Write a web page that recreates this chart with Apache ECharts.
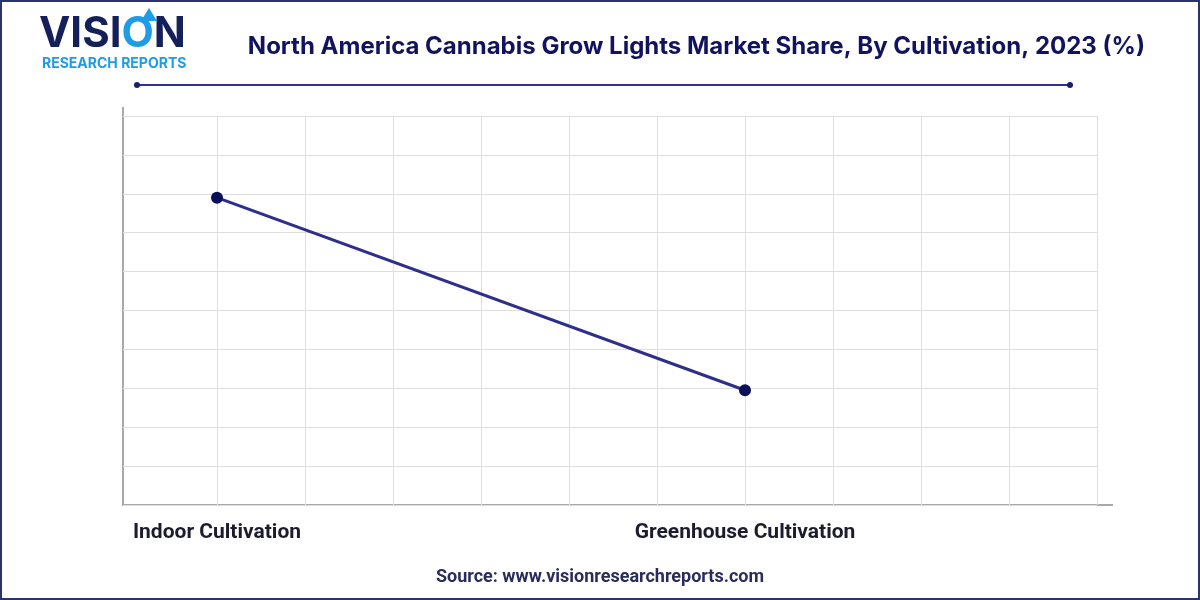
<!DOCTYPE html>
<html><head><meta charset="utf-8">
<script src="https://cdn.jsdelivr.net/npm/echarts@6/dist/echarts.min.js"></script>
<style>
html,body{margin:0;padding:0;background:#fff;}
#c{width:1200px;height:600px;box-sizing:border-box;}
#frame{position:absolute;left:0;top:0;width:1200px;height:600px;box-sizing:border-box;border:2px solid #2c3470;pointer-events:none;}
</style></head>
<body>
<div id="c"></div>
<div id="frame"></div>
<script>
var categories = ['Indoor Cultivation', 'Greenhouse Cultivation'];
var categoryPositions = [1, 7];
var shareValues = [79, 29.5];
var yTicks = [0, 10, 20, 30, 40, 50, 60, 70, 80, 90, 100];

var chart = echarts.init(document.getElementById('c'), null, {renderer: 'canvas'});
var points = categories.map(function (c, i) { return [categoryPositions[i], shareValues[i]]; });
var gridGray = '#dedede';
var xSplitColors = ['rgba(0,0,0,0)'];
for (var k = 0; k < 11; k++) xSplitColors.push(gridGray);

chart.setOption({
  animation: false,
  backgroundColor: '#fff',
  grid: [
    {left: 129, right: 103, top: 116, bottom: 95, containLabel: false},
    {left: 123, right: 103, top: 116, bottom: 95, containLabel: false}
  ],
  title: {
    text: 'North America Cannabis Grow Lights Market Share, By Cultivation, 2023 (%)',
    right: 50, top: 30,
    textStyle: {fontFamily: 'Inter', fontWeight: 'bold', fontSize: 24, color: '#12135e'}
  },
  xAxis: [{
    type: 'value', min: 0, max: 11, interval: 1, gridIndex: 0,
    axisLine: {show: false},
    axisTick: {show: false},
    splitLine: {show: true, lineStyle: {color: xSplitColors, width: 1}},
    axisLabel: {
      margin: 17,
      fontFamily: 'Roboto', fontWeight: 'bold', fontSize: 21, color: '#1c1c2e',
      formatter: function (v) {
        var idx = categoryPositions.indexOf(v);
        return idx >= 0 ? categories[idx] : '';
      }
    }
  }, {
    type: 'value', min: 0, max: 1, gridIndex: 1, show: false
  }],
  yAxis: [{
    type: 'value', min: yTicks[0], max: yTicks[yTicks.length - 1], interval: 10, gridIndex: 0,
    axisLine: {show: false},
    axisTick: {show: false},
    axisLabel: {show: false},
    splitLine: {show: false}
  }, {
    type: 'value', min: yTicks[0], max: yTicks[yTicks.length - 1], interval: 10, gridIndex: 1,
    axisLine: {show: false},
    axisTick: {show: false},
    axisLabel: {show: false},
    splitLine: {show: true, lineStyle: {color: gridGray, width: 1}}
  }],
  series: [{
    type: 'line',
    xAxisIndex: 0, yAxisIndex: 0,
    data: points,
    symbol: 'circle', symbolSize: 12,
    lineStyle: {color: '#2e2f8a', width: 3},
    itemStyle: {color: '#0b0f5a'}
  }],
  graphic: [
    {type: 'line', shape: {x1: 123, y1: 107, x2: 123, y2: 506}, style: {stroke: '#a9a9a9', lineWidth: 2}},
    {type: 'line', shape: {x1: 122, y1: 505, x2: 1113, y2: 505}, style: {stroke: '#a9a9a9', lineWidth: 2}},
    {type: 'line', shape: {x1: 137, y1: 85, x2: 1070, y2: 85}, style: {stroke: '#2e3192', lineWidth: 2}},
    {type: 'circle', shape: {cx: 137, cy: 85, r: 3}, style: {fill: '#1a1f6e'}},
    {type: 'circle', shape: {cx: 1070, cy: 85, r: 3}, style: {fill: '#1a1f6e'}},
    {type: 'text', left: 39, top: 13, style: {
      text: '{a|VISI}{b|O}{a|N}',
      rich: {
        a: {fontFamily: 'Inter', fontWeight: 'bold', fontSize: 42, fill: '#142059'},
        b: {fontFamily: 'Inter', fontWeight: 'bold', fontSize: 42, fill: '#1e9be9'}
      }
    }},
    {type: 'polygon', shape: {points: [[149, 8], [141, 21], [157, 21]]}, style: {fill: '#1e9be9'}},
    {type: 'text', left: 42, top: 57, style: {
      text: 'RESEARCH REPORTS', fontFamily: 'Inter', fontWeight: 'bold', fontSize: 14, fill: '#1e9be9'
    }},
    {type: 'text', left: 'center', top: 568, style: {
      text: 'Source: www.visionresearchreports.com', fontFamily: 'Roboto', fontWeight: 'bold', fontSize: 18, fill: '#2a2c5c'
    }}
  ]
});
</script>
</body></html>
